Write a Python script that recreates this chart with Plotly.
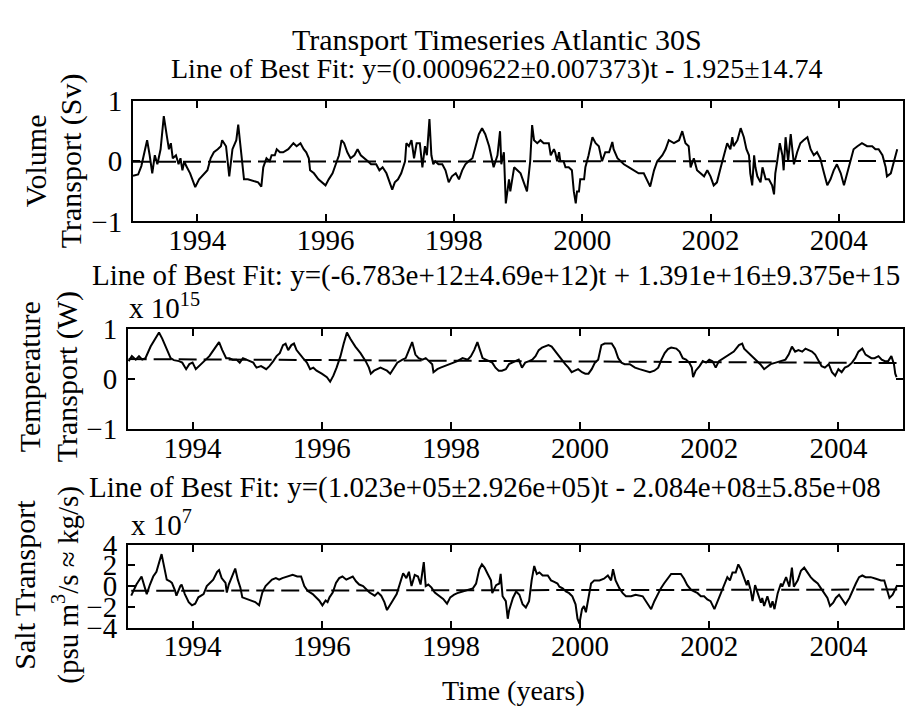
import plotly.graph_objects as go

# ---- Volume transport (Sv): (decimal year, value) ----
volume_sv = [
    (1993.00, -0.24), (1993.08, -0.22), (1993.13, -0.08), (1993.18, 0.19), (1993.22, 0.35),
    (1993.26, 0.10), (1993.30, -0.20), (1993.34, 0.10), (1993.38, -0.05), (1993.43, 0.20),
    (1993.48, 0.75), (1993.53, 0.40), (1993.56, 0.20), (1993.59, 0.30), (1993.62, 0.05),
    (1993.67, 0.10), (1993.71, -0.05), (1993.74, 0.05), (1993.77, -0.15), (1993.80, 0.00),
    (1993.83, -0.08), (1993.89, -0.20), (1993.97, -0.43), (1994.03, -0.30), (1994.11, -0.20),
    (1994.16, -0.15), (1994.21, 0.05), (1994.26, 0.15), (1994.32, 0.20), (1994.37, 0.25),
    (1994.39, 0.35), (1994.45, 0.25), (1994.50, -0.25), (1994.55, 0.20), (1994.61, 0.35),
    (1994.64, 0.61), (1994.67, 0.30), (1994.70, -0.05), (1994.73, -0.30), (1994.79, -0.30),
    (1994.87, -0.33), (1994.95, -0.35), (1995.00, -0.42), (1995.03, -0.10), (1995.08, 0.05),
    (1995.13, 0.00), (1995.16, 0.10), (1995.21, 0.10), (1995.24, 0.20), (1995.29, 0.15),
    (1995.34, 0.15), (1995.42, 0.20), (1995.50, 0.30), (1995.55, 0.25), (1995.61, 0.30),
    (1995.66, 0.20), (1995.70, 0.15), (1995.74, 0.05), (1995.76, -0.15), (1995.82, -0.20),
    (1995.89, -0.30), (1995.95, -0.35), (1996.00, -0.40), (1996.05, -0.30), (1996.11, -0.20),
    (1996.16, -0.05), (1996.21, 0.10), (1996.25, 0.35), (1996.29, 0.30), (1996.34, 0.15),
    (1996.39, 0.05), (1996.45, 0.10), (1996.50, 0.20), (1996.55, 0.10), (1996.61, 0.05),
    (1996.66, 0.00), (1996.71, -0.05), (1996.79, -0.05), (1996.84, -0.15), (1996.89, -0.10),
    (1996.95, -0.20), (1997.00, -0.35), (1997.04, -0.47), (1997.08, -0.35), (1997.13, -0.30),
    (1997.18, -0.20), (1997.24, 0.00), (1997.26, 0.30), (1997.30, 0.25), (1997.34, 0.35),
    (1997.38, 0.05), (1997.42, 0.30), (1997.47, 0.30), (1997.51, -0.10), (1997.55, 0.25),
    (1997.58, 0.10), (1997.62, 0.70), (1997.65, 0.10), (1997.68, -0.05), (1997.71, 0.00),
    (1997.76, -0.05), (1997.82, -0.05), (1997.87, -0.15), (1997.92, -0.35), (1997.97, -0.25),
    (1998.03, -0.20), (1998.08, -0.30), (1998.13, -0.15), (1998.18, -0.05), (1998.23, 0.00),
    (1998.29, 0.05), (1998.34, 0.25), (1998.39, 0.45), (1998.44, 0.55), (1998.49, 0.45),
    (1998.55, 0.25), (1998.60, 0.00), (1998.62, -0.10), (1998.68, 0.10), (1998.72, 0.50),
    (1998.74, -0.05), (1998.78, 0.15), (1998.81, -0.70), (1998.83, -0.55), (1998.86, -0.30),
    (1998.88, -0.50), (1998.94, -0.10), (1998.99, -0.15), (1999.04, -0.20), (1999.09, -0.35),
    (1999.14, -0.50), (1999.17, -0.20), (1999.19, 0.00), (1999.22, 0.60), (1999.25, 0.35),
    (1999.30, 0.30), (1999.35, 0.35), (1999.40, 0.30), (1999.48, 0.30), (1999.51, 0.10),
    (1999.56, 0.20), (1999.58, 0.15), (1999.61, 0.00), (1999.64, 0.15), (1999.66, 0.00),
    (1999.71, 0.00), (1999.74, -0.10), (1999.79, -0.10), (1999.84, -0.15), (1999.87, -0.50),
    (1999.90, -0.70), (1999.92, -0.50), (1999.95, -0.50), (1999.97, -0.30), (2000.03, -0.30),
    (2000.05, -0.10), (2000.10, 0.10), (2000.16, 0.40), (2000.21, 0.30), (2000.26, 0.25),
    (2000.31, 0.00), (2000.36, 0.15), (2000.42, 0.15), (2000.47, 0.32), (2000.49, 0.20),
    (2000.55, 0.05), (2000.60, 0.00), (2000.65, -0.05), (2000.73, -0.10), (2000.81, -0.15),
    (2000.88, -0.20), (2000.96, -0.20), (2001.01, -0.30), (2001.06, -0.42), (2001.12, -0.15),
    (2001.17, 0.00), (2001.25, 0.10), (2001.30, 0.20), (2001.35, 0.35), (2001.43, 0.30),
    (2001.51, 0.35), (2001.56, 0.50), (2001.61, 0.30), (2001.66, 0.25), (2001.69, -0.10),
    (2001.74, 0.05), (2001.79, -0.15), (2001.84, -0.20), (2001.90, -0.25), (2001.95, -0.15),
    (2002.00, -0.25), (2002.05, -0.40), (2002.10, -0.35), (2002.16, -0.10), (2002.21, 0.10),
    (2002.26, 0.30), (2002.31, 0.20), (2002.34, 0.40), (2002.36, 0.25), (2002.42, 0.35),
    (2002.47, 0.55), (2002.52, 0.40), (2002.56, 0.20), (2002.60, 0.10), (2002.62, -0.20),
    (2002.65, -0.40), (2002.68, 0.10), (2002.70, -0.10), (2002.73, -0.25), (2002.78, -0.35),
    (2002.81, -0.10), (2002.86, -0.30), (2002.91, -0.30), (2002.96, -0.40), (2002.99, -0.55),
    (2003.01, -0.20), (2003.04, 0.00), (2003.08, 0.30), (2003.12, 0.10), (2003.14, -0.15),
    (2003.17, 0.40), (2003.21, 0.00), (2003.25, 0.45), (2003.30, -0.05), (2003.35, 0.15),
    (2003.40, 0.30), (2003.45, 0.35), (2003.51, 0.40), (2003.56, 0.20), (2003.61, 0.10),
    (2003.66, 0.15), (2003.71, 0.05), (2003.77, -0.20), (2003.82, -0.40), (2003.87, -0.30),
    (2003.92, -0.15), (2003.97, -0.05), (2004.03, -0.20), (2004.08, -0.40), (2004.13, -0.20),
    (2004.18, 0.00), (2004.23, 0.20), (2004.29, 0.25), (2004.36, 0.30), (2004.44, 0.25),
    (2004.52, 0.25), (2004.57, 0.20), (2004.62, 0.20), (2004.68, 0.10), (2004.73, -0.10),
    (2004.75, -0.25), (2004.81, -0.20), (2004.86, 0.00), (2004.91, 0.20),
]

# ---- Temperature transport (units of 1e15 W) ----
temperature_e15 = [
    (1993.01, 0.35), (1993.06, 0.45), (1993.12, 0.38), (1993.17, 0.45), (1993.22, 0.38),
    (1993.27, 0.41), (1993.35, 0.64), (1993.43, 0.83), (1993.48, 0.92), (1993.53, 0.80),
    (1993.58, 0.64), (1993.66, 0.41), (1993.71, 0.37), (1993.79, 0.35), (1993.84, 0.32),
    (1993.90, 0.19), (1993.95, 0.29), (1994.00, 0.32), (1994.05, 0.19), (1994.10, 0.25),
    (1994.18, 0.35), (1994.26, 0.45), (1994.34, 0.60), (1994.41, 0.73), (1994.46, 0.57),
    (1994.52, 0.41), (1994.57, 0.41), (1994.62, 0.38), (1994.68, 0.38), (1994.73, 0.32),
    (1994.78, 0.41), (1994.83, 0.38), (1994.88, 0.35), (1994.94, 0.32), (1994.99, 0.22),
    (1995.06, 0.25), (1995.14, 0.19), (1995.19, 0.25), (1995.25, 0.35), (1995.30, 0.45),
    (1995.35, 0.51), (1995.40, 0.67), (1995.44, 0.70), (1995.48, 0.57), (1995.53, 0.67),
    (1995.57, 0.70), (1995.61, 0.57), (1995.66, 0.48), (1995.71, 0.41), (1995.77, 0.32),
    (1995.82, 0.19), (1995.87, 0.22), (1995.92, 0.16), (1996.00, 0.10), (1996.08, 0.03),
    (1996.13, -0.06), (1996.18, 0.06), (1996.23, 0.22), (1996.29, 0.45), (1996.34, 0.70),
    (1996.39, 0.92), (1996.44, 0.80), (1996.52, 0.64), (1996.60, 0.51), (1996.68, 0.35),
    (1996.73, 0.22), (1996.76, 0.10), (1996.81, 0.16), (1996.86, 0.19), (1996.91, 0.22),
    (1996.96, 0.19), (1997.01, 0.16), (1997.06, 0.10), (1997.12, 0.22), (1997.17, 0.32),
    (1997.25, 0.38), (1997.30, 0.41), (1997.35, 0.57), (1997.40, 0.73), (1997.45, 0.48),
    (1997.50, 0.41), (1997.56, 0.38), (1997.61, 0.41), (1997.66, 0.35), (1997.71, 0.29),
    (1997.73, 0.13), (1997.79, 0.19), (1997.84, 0.22), (1997.90, 0.25), (1997.97, 0.29),
    (1998.03, 0.32), (1998.10, 0.35), (1998.18, 0.41), (1998.26, 0.38), (1998.31, 0.45),
    (1998.36, 0.57), (1998.41, 0.73), (1998.46, 0.54), (1998.49, 0.41), (1998.54, 0.38),
    (1998.59, 0.35), (1998.64, 0.32), (1998.69, 0.22), (1998.74, 0.16), (1998.79, 0.16),
    (1998.85, 0.19), (1998.90, 0.29), (1998.95, 0.32), (1999.00, 0.35), (1999.05, 0.38),
    (1999.10, 0.22), (1999.15, 0.32), (1999.21, 0.35), (1999.26, 0.38), (1999.31, 0.45),
    (1999.36, 0.57), (1999.41, 0.62), (1999.46, 0.64), (1999.51, 0.67), (1999.56, 0.64),
    (1999.62, 0.54), (1999.67, 0.45), (1999.72, 0.35), (1999.77, 0.29), (1999.82, 0.22),
    (1999.87, 0.13), (1999.92, 0.16), (1999.97, 0.19), (2000.03, 0.13), (2000.08, 0.10),
    (2000.13, 0.10), (2000.18, 0.19), (2000.23, 0.32), (2000.28, 0.38), (2000.33, 0.67),
    (2000.38, 0.70), (2000.44, 0.70), (2000.49, 0.70), (2000.54, 0.60), (2000.59, 0.41),
    (2000.64, 0.32), (2000.69, 0.29), (2000.77, 0.29), (2000.85, 0.22), (2000.92, 0.19),
    (2001.00, 0.16), (2001.08, 0.13), (2001.15, 0.16), (2001.21, 0.22), (2001.26, 0.38),
    (2001.31, 0.51), (2001.36, 0.59), (2001.41, 0.62), (2001.49, 0.60), (2001.54, 0.54),
    (2001.59, 0.41), (2001.64, 0.38), (2001.69, 0.32), (2001.73, 0.22), (2001.75, 0.03),
    (2001.79, 0.16), (2001.85, 0.25), (2001.90, 0.35), (2001.95, 0.32), (2002.00, 0.38),
    (2002.05, 0.35), (2002.10, 0.22), (2002.15, 0.35), (2002.23, 0.41), (2002.31, 0.48),
    (2002.38, 0.54), (2002.46, 0.67), (2002.51, 0.70), (2002.54, 0.60), (2002.59, 0.54),
    (2002.64, 0.48), (2002.69, 0.41), (2002.74, 0.35), (2002.79, 0.29), (2002.85, 0.19),
    (2002.90, 0.25), (2002.95, 0.29), (2003.03, 0.32), (2003.10, 0.35), (2003.18, 0.38),
    (2003.23, 0.48), (2003.28, 0.64), (2003.33, 0.54), (2003.38, 0.57), (2003.44, 0.54),
    (2003.49, 0.60), (2003.54, 0.57), (2003.59, 0.54), (2003.64, 0.48), (2003.69, 0.35),
    (2003.74, 0.25), (2003.79, 0.22), (2003.85, 0.29), (2003.90, 0.13), (2003.95, 0.06),
    (2004.00, 0.19), (2004.05, 0.13), (2004.10, 0.22), (2004.15, 0.25), (2004.21, 0.32),
    (2004.26, 0.41), (2004.31, 0.54), (2004.37, 0.60), (2004.42, 0.48), (2004.46, 0.45),
    (2004.51, 0.41), (2004.56, 0.41), (2004.62, 0.45), (2004.67, 0.38), (2004.72, 0.35),
    (2004.77, 0.35), (2004.82, 0.45), (2004.86, 0.29), (2004.88, 0.10), (2004.90, 0.03),
]

# ---- Salt transport (units of 1e7 psu m^3/s) ----
salt_e7 = [
    (1993.05, -0.92), (1993.13, 0.15), (1993.21, 0.92), (1993.26, -0.15), (1993.29, -0.77),
    (1993.34, 0.15), (1993.39, 0.92), (1993.44, 1.38), (1993.49, 2.46), (1993.52, 3.08),
    (1993.56, 1.85), (1993.60, 0.62), (1993.65, 0.46), (1993.68, 0.31), (1993.73, -0.46),
    (1993.75, -0.92), (1993.81, 0.00), (1993.83, 0.15), (1993.88, -0.77), (1993.94, -1.54),
    (1993.99, -1.85), (1994.04, -1.69), (1994.09, -1.08), (1994.17, -0.77), (1994.22, 0.00),
    (1994.27, 0.31), (1994.32, 0.62), (1994.38, 1.38), (1994.41, 1.54), (1994.45, 0.77),
    (1994.51, 0.31), (1994.53, -0.62), (1994.56, 0.15), (1994.61, 0.92), (1994.66, 1.69),
    (1994.70, 0.62), (1994.74, -0.15), (1994.77, -1.08), (1994.84, -1.23), (1994.92, -1.38),
    (1994.97, -1.54), (1995.03, -1.85), (1995.08, -0.62), (1995.13, 0.00), (1995.18, 0.31),
    (1995.23, 0.62), (1995.29, 0.77), (1995.34, 0.62), (1995.39, 0.77), (1995.47, 0.92),
    (1995.55, 1.08), (1995.62, 0.92), (1995.68, 0.92), (1995.73, 0.00), (1995.78, -0.46),
    (1995.86, -0.77), (1995.91, -1.08), (1995.96, -1.38), (1996.01, -1.85), (1996.06, -1.38),
    (1996.09, -1.54), (1996.12, -1.08), (1996.17, -0.62), (1996.22, 0.31), (1996.27, 0.77),
    (1996.32, 0.92), (1996.38, 0.62), (1996.43, 0.77), (1996.48, 0.92), (1996.53, 0.46),
    (1996.58, 0.15), (1996.64, 0.00), (1996.69, -0.31), (1996.74, -0.62), (1996.82, -0.92),
    (1996.87, -0.62), (1996.92, -0.92), (1996.97, -1.54), (1997.01, -2.31), (1997.05, -1.85),
    (1997.10, -1.38), (1997.16, -0.77), (1997.21, 0.15), (1997.26, 1.23), (1997.31, 0.77),
    (1997.35, 1.38), (1997.39, 0.00), (1997.44, 1.08), (1997.49, 0.92), (1997.53, 0.15),
    (1997.58, 2.31), (1997.61, 0.00), (1997.65, 0.15), (1997.70, -0.15), (1997.75, -0.62),
    (1997.81, -0.92), (1997.88, -1.23), (1997.94, -1.69), (1997.99, -1.08), (1998.05, -0.83),
    (1998.10, -0.68), (1998.18, -0.52), (1998.26, -0.37), (1998.34, -0.22), (1998.39, 0.25),
    (1998.44, 1.63), (1998.48, 2.09), (1998.52, 1.78), (1998.57, 1.17), (1998.62, 0.55),
    (1998.64, -0.68), (1998.70, 0.09), (1998.75, 0.25), (1998.77, 1.17), (1998.80, -0.98),
    (1998.85, -1.45), (1998.88, -3.14), (1998.90, -2.37), (1998.93, -1.75), (1998.96, -1.14),
    (1999.01, -0.52), (1999.06, -0.83), (1999.11, -1.75), (1999.16, -2.06), (1999.21, -1.45),
    (1999.25, 0.55), (1999.29, 1.94), (1999.33, 1.17), (1999.37, 1.32), (1999.42, 1.02),
    (1999.50, 1.02), (1999.55, 0.55), (1999.60, 0.40), (1999.65, 0.25), (1999.68, -0.06),
    (1999.73, -0.22), (1999.78, -0.52), (1999.83, -0.68), (1999.88, -0.98), (1999.93, -1.75),
    (1999.96, -3.14), (1999.99, -3.60), (2000.03, -2.22), (2000.06, -1.91), (2000.09, -2.52),
    (2000.14, -0.52), (2000.17, 0.25), (2000.22, 0.55), (2000.30, 0.55), (2000.37, 0.71),
    (2000.43, 1.02), (2000.48, 0.55), (2000.51, 1.63), (2000.55, 0.55), (2000.61, -0.22),
    (2000.66, -0.68), (2000.71, -0.98), (2000.79, -0.98), (2000.86, -0.83), (2000.97, -0.98),
    (2001.04, -1.60), (2001.10, -2.22), (2001.15, -1.45), (2001.20, -0.83), (2001.25, -0.22),
    (2001.30, 0.25), (2001.35, 0.71), (2001.41, 1.17), (2001.48, 1.17), (2001.56, 1.17),
    (2001.61, 0.71), (2001.66, 0.09), (2001.72, -0.37), (2001.77, -0.52), (2001.82, -0.68),
    (2001.87, -0.98), (2001.92, -0.98), (2001.97, -1.29), (2002.02, -1.45), (2002.08, -2.22),
    (2002.13, -1.45), (2002.18, -0.68), (2002.23, 0.09), (2002.28, 0.86), (2002.32, 0.55),
    (2002.36, 1.32), (2002.41, 1.32), (2002.45, 2.09), (2002.49, 1.63), (2002.54, 0.86),
    (2002.58, 0.09), (2002.60, 0.55), (2002.64, -0.37), (2002.67, -1.45), (2002.71, 0.09),
    (2002.75, -0.68), (2002.80, -1.60), (2002.82, -1.14), (2002.85, -1.91), (2002.90, -0.98),
    (2002.95, -2.06), (2002.98, -1.45), (2003.01, -2.22), (2003.06, -0.68), (2003.11, 0.25),
    (2003.13, -0.06), (2003.19, 0.86), (2003.24, -0.06), (2003.28, 1.78), (2003.31, -0.06),
    (2003.37, 0.55), (2003.42, 1.48), (2003.47, 1.78), (2003.52, 1.32), (2003.57, 0.86),
    (2003.62, 0.55), (2003.68, 0.25), (2003.73, -0.22), (2003.78, -0.68), (2003.83, -1.14),
    (2003.87, -1.91), (2003.92, -1.60), (2003.96, -1.14), (2004.01, -0.83), (2004.06, -1.29),
    (2004.11, -1.75), (2004.17, -1.14), (2004.22, -0.37), (2004.27, 0.25), (2004.32, 0.86),
    (2004.37, 1.02), (2004.42, 0.86), (2004.50, 0.86), (2004.58, 0.71), (2004.66, 0.55),
    (2004.71, 0.55), (2004.76, -0.37), (2004.79, -1.14), (2004.84, -0.83), (2004.88, -0.22),
    (2004.91, 0.09),
]

# Linear fits y = slope * t + intercept (in physical units), with display scale
volume_fit = (0.0009622, -1.925, 1.0)
temperature_fit = (-6.783e12, 1.391e16, 1e15)
salt_fit = (1.023e5, -2.084e8, 1e7)

year_ticks = [1994, 1996, 1998, 2000, 2002, 2004]
volume_yticks = [-1, 0, 1]
temperature_yticks = [-1, 0, 1]
salt_yticks = [-4, -2, 0, 2, 4]

main_title = "Transport Timeseries Atlantic 30S"
fit_labels = [
    "Line of Best Fit: y=(0.0009622±0.007373)t - 1.925±14.74",
    "Line of Best Fit: y=(-6.783e+12±4.69e+12)t + 1.391e+16±9.375e+15",
    "Line of Best Fit: y=(1.023e+05±2.926e+05)t - 2.084e+08±5.85e+08",
]
ylabels = [
    ("Volume", "Transport (Sv)"),
    ("Temperature", "Transport (W)"),
    ("Salt Transport", "(psu m<sup>3</sup>/s ≈ kg/s)"),
]
xlabel = "Time (years)"

W, H = 907, 723
FONT = "Liberation Serif"
TICK_FS = 29


def px(x):
    return x / W


def py(y):
    return 1 - y / H


fig = go.Figure()

series = [volume_sv, temperature_e15, salt_e7]
fits = [volume_fit, temperature_fit, salt_fit]
for i, (data, fit) in enumerate(zip(series, fits), start=1):
    xa = "x" if i == 1 else f"x{i}"
    ya = "y" if i == 1 else f"y{i}"
    t = [p[0] for p in data]
    v = [p[1] for p in data]
    fig.add_trace(go.Scatter(x=t, y=v, mode="lines", xaxis=xa, yaxis=ya,
                             line=dict(color="black", width=2), showlegend=False))
    slope, icpt, scale = fit
    ft = [t[0], t[-1]]
    fv = [(slope * tt + icpt) / scale for tt in ft]
    fig.add_trace(go.Scatter(x=ft, y=fv, mode="lines", xaxis=xa, yaxis=ya,
                             line=dict(color="black", width=2, dash="18px,7px"),
                             showlegend=False))

# panel boxes in pixels: (left, right, top, bottom)
boxes = [(133, 903, 89, 215), (128, 903, 327, 432), (128, 903, 553, 640)]
yranges = [[-1, 1], [-1, 1], [-4, 4]]
yticks = [volume_yticks, temperature_yticks, salt_yticks]

axis_common = dict(showline=True, linecolor="black", linewidth=2, mirror="ticks",
                   ticks="inside", ticklen=7, tickwidth=2, tickcolor="black",
                   showgrid=False, zeroline=False,
                   tickfont=dict(family=FONT, size=TICK_FS, color="black"))

layout = {}
for i, (box, yr, yt) in enumerate(zip(boxes, yranges, yticks), start=1):
    l, r, tp, bt = box
    xkey = "xaxis" if i == 1 else f"xaxis{i}"
    ykey = "yaxis" if i == 1 else f"yaxis{i}"
    yref = "y" if i == 1 else f"y{i}"
    xref = "x" if i == 1 else f"x{i}"
    layout[xkey] = dict(axis_common, domain=[px(l), px(r)], range=[1993, 2005],
                        tickvals=year_ticks, anchor=yref, ticklabelstandoff=-8)
    layout[ykey] = dict(axis_common, domain=[py(bt), py(tp)], range=yr,
                        tickvals=yt, anchor=xref, ticklabelstandoff=3)

fig.update_layout(**layout)

ann = []


def text(s, x, y, size, angle=0, xanchor="center"):
    ann.append(dict(text=s, x=px(x), y=py(y), xref="paper", yref="paper",
                    showarrow=False, textangle=angle, xanchor=xanchor, yanchor="middle",
                    font=dict(family=FONT, size=size, color="black")))


text(main_title, 497, 25, 30)
text(fit_labels[0], 497, 55, 28)
text(fit_labels[1], 496, 271, 29)
text(fit_labels[2], 485, 493, 29)
text("x 10<sup>15</sup>", 127, 303, 29, xanchor="left")
text("x 10<sup>7</sup>", 129, 530, 29, xanchor="left")

label_pos = [((35, 71), 152), ((29, 67), 378), ((25, 66), 595)]
label_fs = [(30, 30), (30, 30), (30, 29)]
for (l1, l2), ((x1, x2), yc), (f1, f2) in zip(ylabels, label_pos, label_fs):
    text(l1, x1, yc, f1, angle=-90)
    text(l2, x2, yc, f2, angle=-90)

text(xlabel, 513, 706, 28)

fig.update_layout(annotations=ann, width=W, height=H,
                  margin=dict(l=0, r=0, t=0, b=0),
                  paper_bgcolor="white", plot_bgcolor="white",
                  font=dict(family=FONT, color="black"))

fig.write_html("out.html")
